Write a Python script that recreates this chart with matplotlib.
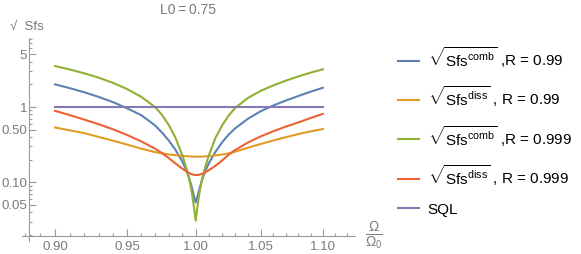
import numpy as np
import matplotlib
matplotlib.use("Agg")
import matplotlib.pyplot as plt
from matplotlib.ticker import FixedLocator, NullFormatter

plt.rcParams['font.family'] = ['Liberation Sans', 'DejaVu Sans']
plt.rcParams['mathtext.fontset'] = 'custom'
plt.rcParams['mathtext.rm'] = 'Liberation Sans'
plt.rcParams['mathtext.it'] = 'Liberation Sans:italic'

# frequency ratio Omega/Omega0
omega = [0.90, 0.91, 0.92, 0.93, 0.94, 0.95, 0.96, 0.97, 0.975, 0.98, 0.985,
         0.99, 0.993, 0.995, 0.997, 0.9985, 1.0, 1.0015, 1.003, 1.005, 1.007,
         1.01, 1.015, 1.02, 1.025, 1.03, 1.04, 1.05, 1.06, 1.07, 1.08, 1.09, 1.10]

# sqrt(Sfs)
comb_099 = [2.0, 1.78, 1.57, 1.36, 1.16, 0.96, 0.78, 0.57, 0.46, 0.36, 0.27,
            0.19, 0.145, 0.115, 0.088, 0.068, 0.054, 0.066, 0.084, 0.11, 0.138,
            0.18, 0.255, 0.34, 0.43, 0.52, 0.70, 0.88, 1.05, 1.22, 1.40, 1.60, 1.80]
diss_099 = [0.535, 0.49, 0.45, 0.40, 0.357, 0.317, 0.28, 0.252, 0.243, 0.235, 0.229,
            0.224, 0.222, 0.221, 0.22, 0.219, 0.219, 0.219, 0.219, 0.22, 0.221,
            0.223, 0.228, 0.234, 0.242, 0.255, 0.288, 0.323, 0.36, 0.398, 0.437, 0.475, 0.51]
comb_0999 = [3.5, 3.15, 2.8, 2.45, 2.09, 1.73, 1.37, 1.0, 0.79, 0.58, 0.39,
             0.23, 0.155, 0.115, 0.075, 0.05, 0.031, 0.05, 0.075, 0.115, 0.155,
             0.23, 0.39, 0.57, 0.77, 0.97, 1.32, 1.64, 1.94, 2.24, 2.55, 2.86, 3.17]
diss_0999 = [0.89, 0.78, 0.68, 0.59, 0.505, 0.425, 0.35, 0.28, 0.245, 0.21, 0.178,
             0.152, 0.14, 0.133, 0.128, 0.126, 0.125, 0.125, 0.127, 0.13, 0.135,
             0.145, 0.166, 0.195, 0.232, 0.268, 0.338, 0.408, 0.477, 0.55, 0.625, 0.715, 0.81]
sql = [1.0] * len(omega)

series = [
    (comb_099, '#5E81B5', r'$\sqrt{\mathrm{Sfs}^{\mathrm{comb}}}$ ,R = 0.99'),
    (diss_099, '#E19C24', r'$\sqrt{\mathrm{Sfs}^{\mathrm{diss}}}$ , R = 0.99'),
    (comb_0999, '#8FB032', r'$\sqrt{\mathrm{Sfs}^{\mathrm{comb}}}$ ,R = 0.999'),
    (diss_0999, '#EB6235', r'$\sqrt{\mathrm{Sfs}^{\mathrm{diss}}}$ , R = 0.999'),
    (sql, '#8778B3', 'SQL'),
]

x_major = [0.90, 0.95, 1.00, 1.05, 1.10]
x_minor = [round(0.88 + 0.01 * i, 2) for i in range(25)]
y_major = [0.05, 0.10, 0.50, 1, 5]
y_labels = ['0.05', '0.10', '0.50', '1', '5']
y_minor = [0.02, 0.03, 0.04, 0.06, 0.07, 0.08, 0.09, 0.2, 0.3, 0.4,
           0.6, 0.7, 0.8, 0.9, 2, 3, 4, 6, 7, 8]

W, H = 581, 254
fig = plt.figure(figsize=(W / 100, H / 100), dpi=100)
ax = fig.add_axes([22 / W, 1 - 241 / H, (355 - 22) / W, (241 - 38) / H])

for vals, col, lab in series:
    ax.plot(omega, vals, color=col, lw=1.5, label=lab)

ax.set_xscale('log')
ax.set_yscale('log')
ax.set_xlim(0.8780, 1.1268)
ax.set_ylim(0.01662, 8.25)

grey = '#9a9a9a'
tcol = '#7a7a7a'
for s in ['top', 'right']:
    ax.spines[s].set_visible(False)
ax.spines['left'].set_position(('data', 0.88265))
ax.spines['bottom'].set_position(('data', 0.01954))
for s in ['left', 'bottom']:
    ax.spines[s].set_color(grey)
    ax.spines[s].set_linewidth(0.8)

ax.xaxis.set_major_locator(FixedLocator(x_major))
ax.xaxis.set_minor_locator(FixedLocator(x_minor))
ax.set_xticklabels(['%.2f' % v for v in x_major])
ax.xaxis.set_minor_formatter(NullFormatter())
ax.yaxis.set_major_locator(FixedLocator(y_major))
ax.set_yticklabels(y_labels)
ax.yaxis.set_minor_locator(FixedLocator(y_minor))
ax.yaxis.set_minor_formatter(NullFormatter())

ax.tick_params(which='both', direction='in', color=grey, labelcolor=tcol,
               labelsize=9.5, width=0.8)
ax.tick_params(which='major', length=5)
ax.tick_params(which='minor', length=2.5)
ax.tick_params(axis='x', which='major', pad=4)
ax.tick_params(axis='y', which='major', pad=1.5)

# title, axis labels
fig.text(188 / W, 1 - 10 / H, 'L0\u2009=\u20090.75', color=tcol, fontsize=10,
         ha='center', va='center')
fig.text(10 / W, 1 - 27 / H, '\u221a  Sfs', color=tcol, fontsize=9.5,
         ha='left', va='center')
fig.text(374 / W, 1 - 236 / H, r'$\frac{\Omega}{\Omega_0}$', color=tcol,
         fontsize=14, ha='center', va='center')

fig.legend(loc='upper left', bbox_to_anchor=(398 / W, 1 - 45 / H),
           frameon=False, fontsize=11, handlelength=1.4, handletextpad=0.55,
           labelspacing=0.95, borderaxespad=0, borderpad=0)

fig.savefig('out.png', dpi=100)
